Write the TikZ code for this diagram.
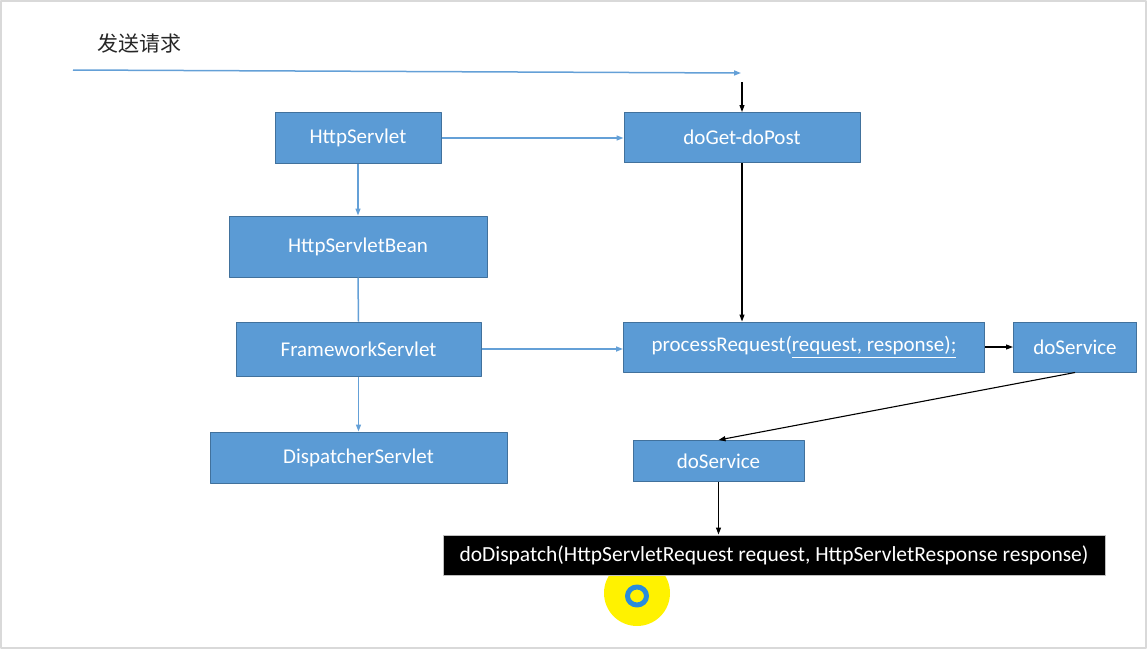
\documentclass[tikz,border=0pt]{standalone}
\usepackage{fontspec}
\setmainfont{Carlito}
\newfontfamily\cjkfont{Noto Sans CJK SC}
\usetikzlibrary{arrows.meta}
\definecolor{boxblue}{RGB}{91,155,213}
\definecolor{boxedge}{RGB}{65,113,156}
\definecolor{linkblue}{RGB}{100,160,215}
\definecolor{ringblue}{RGB}{40,140,220}

\begin{document}
\begin{tikzpicture}[x=1pt, y=-1pt, line join=round,
    box/.style={draw=boxedge, fill=boxblue, line width=1pt, text=white,
      inner sep=0pt, font=\fontsize{21}{25}\selectfont},
    bluelink/.style={draw=linkblue, line width=1.5pt, -{Triangle[length=7pt,width=5pt]}},
    blacklink/.style={draw=black, line width=1.1pt, -{Triangle[length=7pt,width=5pt]}}]
  \useasboundingbox (0,0) rectangle (1148,651);
  % slide frame
  \draw[black!15, line width=2pt] (1,1) rectangle (1146,648);

  % request coming in
  \node[font=\fontsize{21}{25}\selectfont\cjkfont, text=black!85] (req) at (139,44) {发送请求};
  \coordinate (reqstart) at (73,70);
  \coordinate (reqend) at (741,73);
  \coordinate (reqdown) at (742,82);
  \draw[bluelink] (reqstart) -- (reqend);

  % servlet hierarchy
  \node[box, minimum width=166, minimum height=51] (hs) at (358,138) {HttpServlet};
  \node[box, minimum width=258, minimum height=61] (hsb) at (358,246.5) {HttpServletBean};
  \node[box, minimum width=245, minimum height=54] (fw) at (358.5,349) {FrameworkServlet};
  \node[box, minimum width=297, minimum height=51] (ds) at (358.5,457.5) {DispatcherServlet};

  % call chain
  \node[box, minimum width=236, minimum height=50] (doget) at (742,137.5) {doGet-doPost};
  \node[box, minimum width=361, minimum height=50] (proc) at (804,347)
    {processRequest(\underline{request, response);}};
  \node[box, minimum width=123, minimum height=50] (svc) at (1075,347) {doService};
  \node[box, minimum width=171, minimum height=41] (svcb) at (718.5,461) {doService};

  % cursor highlight
  \fill[yellow] (637,593) circle (33);
  \draw[ringblue, line width=5pt] (637,596) ellipse (9.5 and 9);

  \node[box, fill=black, draw=black!25, minimum width=662, minimum height=40,
    font=\fontsize{21.5}{25}\selectfont] (disp)
    at (774,555) {doDispatch(HttpServletRequest request, HttpServletResponse response)};

  % blue links
  \draw[bluelink] (hs.east) -- (hs.east -| doget.west);
  \draw[bluelink] (hs.south) -- (hsb.north);
  \draw[linkblue, line width=1.5pt] (hsb.south) -- (fw.north);
  \draw[bluelink] (fw.south) -- (ds.north);
  \draw[bluelink] (fw.east) -- (fw.east -| proc.west);

  % black links
  \draw[blacklink] (reqdown) -- (doget.north);
  \draw[blacklink] (doget.south) -- (doget.south |- proc.north);
  \draw[blacklink] (proc.east) -- (svc.west);
  \draw[blacklink] (svc.south) -- (svcb.north);
  \draw[blacklink] (svcb.south) -- (svcb.south |- disp.north);
\end{tikzpicture}
\end{document}
